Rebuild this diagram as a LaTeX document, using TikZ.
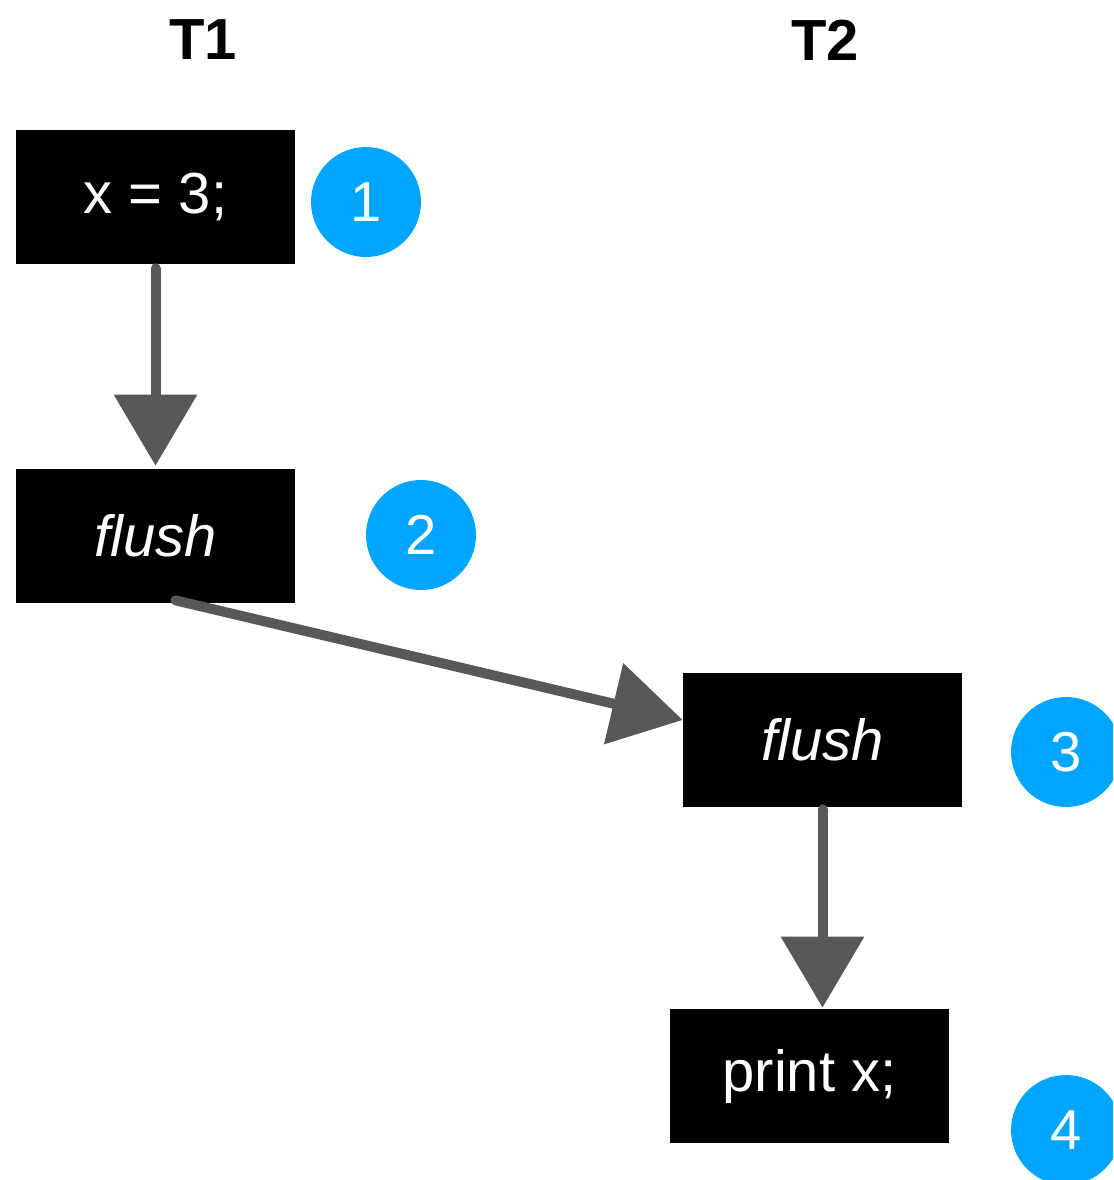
\documentclass[tikz,border=0pt]{standalone}
\usepackage{fontspec}
\setmainfont{Liberation Sans}
\usepackage{tikz}
\usetikzlibrary{arrows.meta}
\usetikzlibrary{positioning}
\usetikzlibrary{calc}
\definecolor{stepblue}{RGB}{0,165,255}
\definecolor{pencil}{RGB}{88,88,88}

\begin{document}
\begin{tikzpicture}[
    x=0.02cm, y=-0.02cm,
    box/.style={rectangle, fill=black, text=white, minimum width=5.58cm,
               minimum height=2.68cm, inner sep=0pt,
               font=\fontsize{33}{36}\selectfont},
    badge/.style={circle, fill=stepblue, text=white, minimum size=2.2cm,
               inner sep=0pt, font=\fontsize{32}{36}\selectfont},
    thread/.style={font=\fontsize{33}{36}\selectfont\bfseries},
    arrow/.style={-{Triangle[length=1.42cm, width=1.62cm]}, line width=0.2cm,
               draw=pencil, line cap=round}
]
\useasboundingbox (0,0) rectangle (1113,1180);
\clip (0,0) rectangle (1113,1180);

% Thread headers
\node[thread] (t1) at (203,40) {T1};
\node[thread] (t2) at (825,40) {T2};

% Operations
\node[box] (store) at (155.5,197) {x = 3;};
\node[box] (flushA) at (155.5,536) {\itshape flush};
\node[box] (flushB) at (822.5,740) {\itshape flush};
\node[box] (print) at (809.5,1076) {print x;};

% Step numbers
\node[badge] (s1) at (366,202) {1};
\node[badge] (s2) at (421,535) {2};
\node[badge] (s3) at (1066,752) {3};
\node[badge] (s4) at (1066,1130) {4};

% Ordering arrows
\draw[arrow] ([yshift=-0.08cm]store.south) -- ([yshift=0.06cm]flushA.north);
\draw[arrow] ([xshift=0.4cm,yshift=0.06cm]flushA.south) -- ([yshift=0.4cm]flushB.west);
\draw[arrow] ([yshift=-0.04cm]flushB.south) -- ([yshift=0.02cm]flushB.south |- print.north);

\end{tikzpicture}
\end{document}
